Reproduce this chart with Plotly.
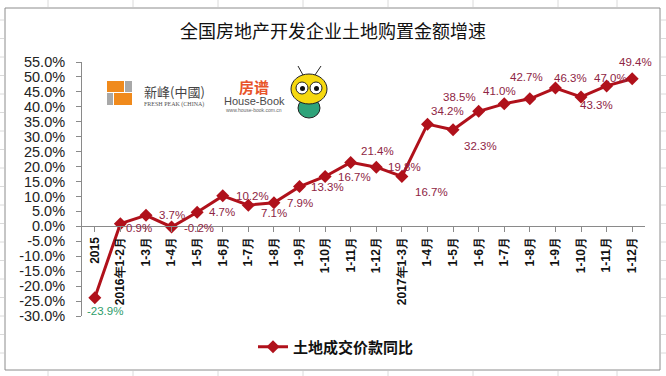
import plotly.graph_objects as go

# ---------------- data ----------------
categories = ["2015", "2016年1-2月", "1-3月", "1-4月", "1-5月", "1-6月", "1-7月", "1-8月",
              "1-9月", "1-10月", "1-11月", "1-12月", "2017年1-3月", "1-4月", "1-5月",
              "1-6月", "1-7月", "1-8月", "1-9月", "1-10月", "1-11月", "1-12月"]
values = [-23.9, 0.9, 3.7, -0.2, 4.7, 10.2, 7.1, 7.9, 13.3, 16.7, 21.4, 19.8,
          16.7, 34.2, 32.3, 38.5, 41.0, 42.7, 46.3, 43.3, 47.0, 49.4]
value_labels = ["-23.9%", "0.9%", "3.7%", "-0.2%", "4.7%", "10.2%", "7.1%", "7.9%",
                "13.3%", "16.7%", "21.4%", "19.8%", "16.7%", "34.2%", "32.3%", "38.5%",
                "41.0%", "42.7%", "46.3%", "43.3%", "47.0%", "49.4%"]
y_tick_vals = [-30, -25, -20, -15, -10, -5, 0, 5, 10, 15, 20, 25, 30, 35, 40, 45, 50, 55]
y_tick_text = ["-30.0%", "-25.0%", "-20.0%", "-15.0%", "-10.0%", "-5.0%", "0.0%", "5.0%",
               "10.0%", "15.0%", "20.0%", "25.0%", "30.0%", "35.0%", "40.0%", "45.0%",
               "50.0%", "55.0%"]
series_name = "土地成交价款同比"
title_text = "全国房地产开发企业土地购置金额增速"

# ---------------- style ----------------
W, H = 666, 376
L, R, T, B = 82, 645, 62, 316
Y_MIN, Y_MAX = -30, 55
LINE_COLOR = "#B0111B"
LABEL_COLOR = "#8E2443"
FIRST_LABEL_COLOR = "#2E9C6A"
AXIS_COLOR = "#8A8A8A"
# label offsets in pixels (dx right, dy down) relative to each point
label_offsets = [(10, 13), (19, 4), (26, 0), (27, 1), (25, 0), (30, 0), (26, 8), (26, 0),
                 (28, 0), (29, 1), (27, -11), (28, 0), (30, 16), (20, -13), (27, 16),
                 (-19, -14), (-5, -13), (-3, -22), (15, -10), (15, 8), (4, -8), (3, -17)]


def px_x(x):
    return (x - L) / (R - L)


def px_y(y):
    return (B - y) / (B - T)


fig = go.Figure()
fig.add_trace(go.Scatter(
    x=list(range(len(categories))), y=values, mode="lines+markers", name=series_name,
    line=dict(color=LINE_COLOR, width=3),
    marker=dict(symbol="diamond", size=10, color=LINE_COLOR),
    showlegend=True, hoverinfo="skip",
))

annotations = []
for i, (v, lab) in enumerate(zip(values, value_labels)):
    dx, dy = label_offsets[i]
    annotations.append(dict(
        x=i, y=v, xref="x", yref="y", text=lab, showarrow=False,
        xanchor="center", yanchor="middle", xshift=dx, yshift=-dy,
        font=dict(family="Liberation Sans, Arial, sans-serif", size=11.5,
                  color=FIRST_LABEL_COLOR if i == 0 else LABEL_COLOR),
    ))

# logo texts
annotations += [
    dict(x=px_x(174), y=px_y(91), xref="paper", yref="paper", text="新峰(中國)", showarrow=False,
         font=dict(family="Noto Sans CJK TC", size=13, color="#444444"), xanchor="center", yanchor="middle"),
    dict(x=px_x(174), y=px_y(104), xref="paper", yref="paper", text="FRESH PEAK (CHINA)", showarrow=False,
         font=dict(family="Liberation Serif", size=6, color="#555555"), xanchor="center", yanchor="middle"),
    dict(x=px_x(254), y=px_y(86), xref="paper", yref="paper", text="<b>房谱</b>", showarrow=False,
         font=dict(family="Noto Sans CJK SC", size=15, color="#E8542A"), xanchor="center", yanchor="middle"),
    dict(x=px_x(254), y=px_y(101), xref="paper", yref="paper", text="House-Book", showarrow=False,
         font=dict(family="Liberation Sans", size=11, color="#4A4A4A"), xanchor="center", yanchor="middle"),
    dict(x=px_x(254), y=px_y(110), xref="paper", yref="paper", text="www.house-book.com.cn", showarrow=False,
         font=dict(family="Liberation Sans", size=5, color="#666666"), xanchor="center", yanchor="middle"),
]

shapes = []
# chart area border
shapes.append(dict(type="rect", xref="paper", yref="paper", x0=px_x(5), x1=px_x(660),
                   y0=px_y(370), y1=px_y(8), line=dict(color="#8C8C8C", width=1)))
# faint spreadsheet gridlines outside the chart
for gx in [48, 133, 218, 303, 388, 473, 558, 617]:
    shapes.append(dict(type="line", xref="paper", yref="paper", x0=px_x(gx), x1=px_x(gx),
                       y0=px_y(0), y1=px_y(7), line=dict(color="#DADADA", width=1)))
    shapes.append(dict(type="line", xref="paper", yref="paper", x0=px_x(gx), x1=px_x(gx),
                       y0=px_y(371), y1=px_y(376), line=dict(color="#DADADA", width=1)))
gy = 20
while gy < 370:
    shapes.append(dict(type="line", xref="paper", yref="paper", x0=px_x(0), x1=px_x(4),
                       y0=px_y(gy), y1=px_y(gy), line=dict(color="#DADADA", width=1)))
    shapes.append(dict(type="line", xref="paper", yref="paper", x0=px_x(661), x1=px_x(666),
                       y0=px_y(gy), y1=px_y(gy), line=dict(color="#DADADA", width=1)))
    gy += 18.5
# Fresh Peak logo blocks
for (x0, x1, y0, y1, c) in [(107, 124, 81, 92, "#F08A1C"), (125, 132, 81, 92, "#A8A8A8"),
                            (107, 113, 93, 105, "#A8A8A8"), (114, 132, 93, 105, "#F08A1C")]:
    shapes.append(dict(type="rect", xref="paper", yref="paper", x0=px_x(x0), x1=px_x(x1),
                       y0=px_y(y1), y1=px_y(y0), fillcolor=c, line=dict(width=0)))
# bee mascot (simplified)
shapes += [
    dict(type="circle", xref="paper", yref="paper", x0=px_x(298), x1=px_x(320), y0=px_y(118), y1=px_y(98),
         fillcolor="#2FA37A", line=dict(color="#222", width=1)),
    dict(type="circle", xref="paper", yref="paper", x0=px_x(291), x1=px_x(327), y0=px_y(104), y1=px_y(74),
         fillcolor="#F6D80F", line=dict(color="#222", width=1)),
    dict(type="circle", xref="paper", yref="paper", x0=px_x(296), x1=px_x(308), y0=px_y(94), y1=px_y(82),
         fillcolor="white", line=dict(color="#222", width=1)),
    dict(type="circle", xref="paper", yref="paper", x0=px_x(310), x1=px_x(322), y0=px_y(94), y1=px_y(82),
         fillcolor="white", line=dict(color="#222", width=1)),
    dict(type="circle", xref="paper", yref="paper", x0=px_x(300), x1=px_x(305), y0=px_y(91), y1=px_y(86),
         fillcolor="#111", line=dict(width=0)),
    dict(type="circle", xref="paper", yref="paper", x0=px_x(314), x1=px_x(319), y0=px_y(91), y1=px_y(86),
         fillcolor="#111", line=dict(width=0)),
    dict(type="line", xref="paper", yref="paper", x0=px_x(303), x1=px_x(298), y0=px_y(75), y1=px_y(66),
         line=dict(color="#222", width=1)),
    dict(type="line", xref="paper", yref="paper", x0=px_x(315), x1=px_x(321), y0=px_y(75), y1=px_y(66),
         line=dict(color="#222", width=1)),
]

fig.update_layout(
    width=W, height=H,
    margin=dict(l=L, r=W - R, t=T, b=H - B, pad=0, autoexpand=False),
    paper_bgcolor="white", plot_bgcolor="white",
    title=dict(text=title_text, x=0.5, xref="container", xanchor="center",
               y=1 - 32 / H, yref="container", yanchor="middle",
               font=dict(family="Noto Sans CJK SC", size=18, color="#111111")),
    xaxis=dict(
        tickmode="array", tickvals=list(range(len(categories))), ticktext=categories,
        range=[-0.5, len(categories) - 0.5], anchor="free",
        position=(0 - Y_MIN) / (Y_MAX - Y_MIN), automargin=False,
        showline=True, linecolor=AXIS_COLOR, linewidth=1,
        ticks="outside", tickson="boundaries", ticklen=5, tickcolor=AXIS_COLOR,
        tickangle=-90, showgrid=False, zeroline=False,
        tickfont=dict(family="Liberation Sans, Arial, sans-serif", size=12, color="#111111", weight="bold"),
    ),
    yaxis=dict(
        range=[Y_MIN, Y_MAX], tickmode="array", tickvals=y_tick_vals, ticktext=y_tick_text,
        automargin=False,
        showline=True, linecolor=AXIS_COLOR, linewidth=1,
        ticks="outside", ticklen=5, tickcolor=AXIS_COLOR, ticklabelstandoff=8,
        showgrid=False, zeroline=False,
        tickfont=dict(family="Liberation Sans, Arial, sans-serif", size=14.5, color="#222222"),
    ),
    legend=dict(orientation="h", x=px_x(336), xanchor="center", y=px_y(347), yanchor="middle",
                font=dict(family="Noto Sans CJK SC", size=15, color="#111111", weight="bold"),
                bgcolor="rgba(0,0,0,0)"),
    annotations=annotations,
    shapes=shapes,
)

fig.write_html("out.html", config={"displayModeBar": False},
               post_script="document.body.style.margin='0';document.body.style.padding='0';")
